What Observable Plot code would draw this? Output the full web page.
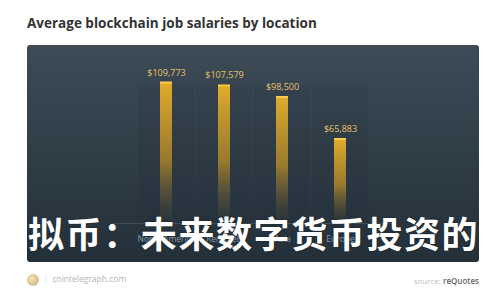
<!DOCTYPE html>
<html>
<head>
<meta charset="utf-8">
<script src="https://cdn.jsdelivr.net/npm/d3@7"></script>
<script src="https://cdn.jsdelivr.net/npm/@observablehq/plot@0.6"></script>
<style>
  html, body { margin: 0; padding: 0; background: #fff; width: 500px; height: 300px; overflow: hidden; }
  #title { position: absolute; left: 27px; top: 14px; font-family: "Open Sans", sans-serif; font-weight: 700; font-size: 13.5px; color: #333; white-space: nowrap; }
  #panel { position: absolute; left: 27px; top: 45px; width: 452px; height: 217px; border-radius: 3px;
           background: linear-gradient(to bottom, #3c4b56 0%, #2e3c46 55%, #243039 100%); overflow: hidden; }
  #overlay { position: absolute; left: 28px; top: 214px; width: 460px; font-family: "Noto Sans CJK SC", sans-serif; font-weight: 700;
             font-size: 36px; line-height: 1; color: #fff; white-space: nowrap; letter-spacing: 1.6px; text-shadow: 0 0 2px rgba(0,0,0,0.4); }
  #footer-left { position: absolute; left: 27px; top: 273px; font-family: "Open Sans", sans-serif; font-size: 8.5px; color: #b5b5b5; white-space: nowrap; }
  #logo { display: inline-block; width: 12px; height: 12px; border-radius: 50%; vertical-align: middle;
          background: radial-gradient(circle at 40% 40%, #f3e6b8 0%, #d8c690 50%, #c9c2b0 100%); }
  #footer-right { position: absolute; right: 21px; top: 275px; font-family: "Open Sans", sans-serif; font-size: 8px; color: #c0c0c0; white-space: nowrap; }
  #footer-right b { color: #666; font-weight: 600; }
</style>
</head>
<body>
<div id="title">Average blockchain job salaries by location</div>
<div id="panel"></div>
<div id="overlay">拟币：未来数字货币投资的</div>
<div id="footer-left"><span id="logo"></span>&nbsp;&nbsp;<span style="color:#ddd">|</span>&nbsp;&nbsp;cointelegraph.com</div>
<div id="footer-right">source: <b>reQuotes</b></div>
<script>
const locations = ["North America", "Remotely", "Asia", "Europe"];
const salaries = [109773, 107579, 98500, 65883];
const yMax = 120000;

const data = locations.map((loc, i) => ({location: loc, salary: salaries[i]}));

const defs = () => {
  const g = d3.create("svg:defs");
  const grad = g.append("linearGradient").attr("id", "barGrad").attr("x1", 0).attr("x2", 0).attr("y1", 0).attr("y2", 1);
  grad.append("stop").attr("offset", "0%").attr("stop-color", "#e0ac2a").attr("stop-opacity", 1);
  grad.append("stop").attr("offset", "55%").attr("stop-color", "#b58a2a").attr("stop-opacity", 0.8);
  grad.append("stop").attr("offset", "100%").attr("stop-color", "#6a5a35").attr("stop-opacity", 0.05);
  return g.node();
};

const chart = Plot.plot({
  width: 452,
  height: 217,
  marginLeft: 85,
  marginRight: 85,
  marginTop: 24,
  marginBottom: 39,
  style: {background: "transparent", fontFamily: "Open Sans, sans-serif"},
  x: {domain: locations, padding: 0.79, label: null, tickSize: 0, tickPadding: 12},
  y: {domain: [0, yMax], axis: null},
  marks: [
    defs,
    Plot.barY(data, {x: "location", y: () => yMax * 0.9, fill: "#0d1820", fillOpacity: 0.06, insetLeft: -22, insetRight: -22}),
    Plot.ruleY([0], {stroke: "#55656f", strokeOpacity: 0.5}),
    Plot.barY(data, {x: "location", y: "salary", fill: "url(#barGrad)"}),
    Plot.tickY(data, {x: "location", y: "salary", stroke: "#f8cc4a", strokeWidth: 2}),
    Plot.text(data, {x: "location", y: "salary", text: d => "$" + d3.format(",")(d.salary), dy: -10, fill: "#e6c36a", fontSize: 9}),
    Plot.axisX({tickSize: 0, tickPadding: 12, color: "#8b9aa4", fontSize: 8.5, label: null})
  ]
});
document.getElementById("panel").appendChild(chart);
</script>
</body>
</html>
